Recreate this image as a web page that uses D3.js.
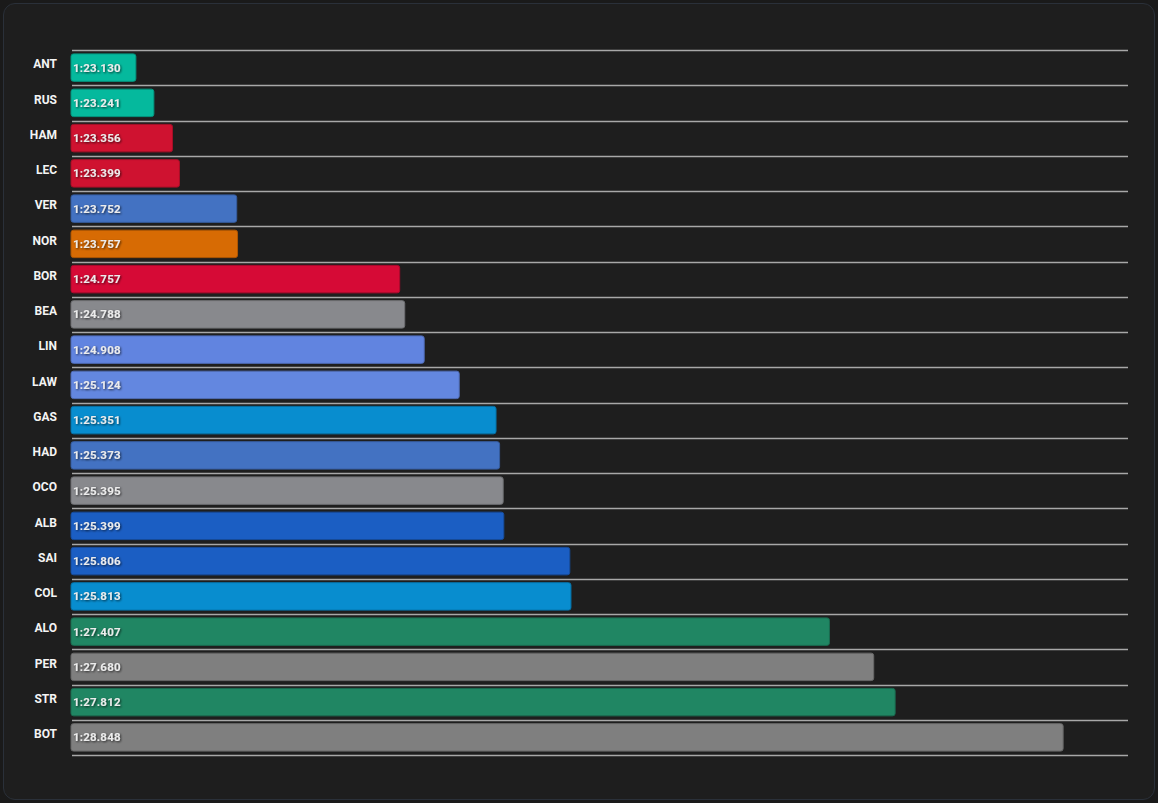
<!DOCTYPE html>
<html>
<head>
<meta charset="utf-8">
<script src="https://cdn.jsdelivr.net/npm/d3@7"></script>
<style>
  html, body { margin: 0; padding: 0; background: #1a1a1a; }
  #panel {
    position: absolute; left: 3px; top: 3px; width: 1150px; height: 795px;
    background: #1e1e1e; border: 1px solid #2a3039; border-radius: 12px;
  }
  svg { position: absolute; left: 0; top: 0; }
  text { font-family: Roboto, "Noto Sans", sans-serif; }
</style>
</head>
<body>
<div id="panel"></div>
<svg id="chart" width="1158" height="803"></svg>
<script>
const drivers = ["ANT","RUS","HAM","LEC","VER","NOR","BOR","BEA","LIN","LAW","GAS","HAD","OCO","ALB","SAI","COL","ALO","PER","STR","BOT"];
const lapTimes = [83.130, 83.241, 83.356, 83.399, 83.752, 83.757, 84.757, 84.788, 84.908, 85.124, 85.351, 85.373, 85.395, 85.399, 85.806, 85.813, 87.407, 87.680, 87.812, 88.848];
const teamColors = ["#05b99d","#05b99d","#cf1230","#cf1230","#4372c2","#d76b04","#d60a36","#88898d","#6184e0","#6387e0","#088dcf","#4372c2","#88898d","#1b5ec3","#1b5ec3","#088dcf","#208663","#7f7f7f","#208663","#7f7f7f"];

const data = drivers.map((d, i) => ({ driver: d, time: lapTimes[i], color: teamColors[i] }));

function fmt(t) {
  const m = Math.floor(t / 60);
  const s = t - m * 60;
  return m + ":" + (s < 10 ? "0" : "") + s.toFixed(3);
}

const svg = d3.select("#chart");
const mLeft = 71, mRight = 1128, mTop = 50, mBottom = 755;

const x = d3.scaleLinear()
  .domain([d3.min(lapTimes) - 0.4, d3.max(lapTimes) + 0.4])
  .range([mLeft, mRight]);

const y = d3.scaleBand()
  .domain(drivers)
  .range([mTop, mBottom])
  .paddingInner(0.22)
  .paddingOuter(0.11);

const step = y.step();
const off = step * 0.11;

const defs = svg.append("defs");
const f = defs.append("filter").attr("id", "shadow").attr("x", "-10%").attr("y", "-30%").attr("width", "130%").attr("height", "160%");
f.append("feDropShadow").attr("dx", 1).attr("dy", 1).attr("stdDeviation", 1.2).attr("flood-color", "#000").attr("flood-opacity", 0.7);

// grid lines at band boundaries
const lines = drivers.map(d => y(d) - off).concat([y(drivers[drivers.length - 1]) - off + step]);
svg.append("g").selectAll("line").data(lines).join("line")
  .attr("x1", mLeft + 1).attr("x2", mRight)
  .attr("y1", d => Math.round(d) + 0.5).attr("y2", d => Math.round(d) + 0.5)
  .attr("stroke", "#a8a8a8").attr("stroke-width", 1.6);

// bars
svg.append("g").selectAll("rect").data(data).join("rect")
  .attr("x", x.range()[0])
  .attr("y", d => y(d.driver))
  .attr("width", d => x(d.time) - x.range()[0])
  .attr("height", y.bandwidth())
  .attr("rx", 2.5)
  .attr("fill", d => d.color)
  .attr("stroke", d => d3.color(d.color).darker(0.6))
  .attr("stroke-width", 1);

// bar labels
svg.append("g").selectAll("text").data(data).join("text")
  .attr("x", mLeft + 2)
  .attr("y", d => y(d.driver) + y.bandwidth() / 2 + 1)
  .attr("dominant-baseline", "middle")
  .attr("font-size", 11.5)
  .attr("font-weight", 700)
  .attr("letter-spacing", 0.2)
  .attr("fill", "#ececec")
  .attr("filter", "url(#shadow)")
  .text(d => fmt(d.time));

// driver axis labels
const axis = d3.axisLeft(y).tickSize(0).tickPadding(0);
const gAxis = svg.append("g").attr("transform", `translate(57,-3)`).call(axis);
gAxis.select(".domain").remove();
gAxis.selectAll("text")
  .attr("font-size", 12)
  .attr("font-weight", 700)
  .attr("fill", "#f4f4f4")
  .style("font-family", "Roboto, 'Noto Sans', sans-serif");
</script>
</body>
</html>
